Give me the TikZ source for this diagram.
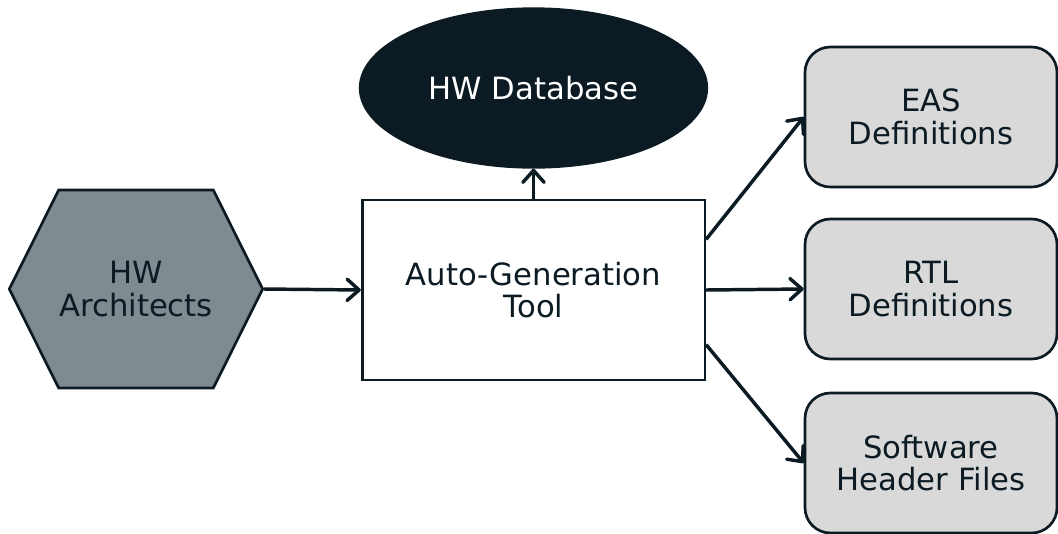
\documentclass[tikz,border=0pt]{standalone}
\usepackage{fontspec}
\setmainfont{DejaVu Sans}
\usetikzlibrary{shapes.geometric,shapes.symbols,arrows.meta}
\definecolor{ink}{HTML}{0B1A23}
\definecolor{slate}{HTML}{7F8A91}
\definecolor{pale}{HTML}{D9D9D9}
\tikzset{every node/.style={align=center, font=\fontsize{23}{24.5}\selectfont, text=ink, draw=ink, line width=2pt, inner sep=0pt},
  hexa/.style={shape=signal, signal to=east and west, signal pointer angle=127, fill=slate, minimum width=190pt, minimum height=148.5pt},
  toolbox/.style={rectangle, fill=white, minimum width=257pt, minimum height=135pt},
  dbnode/.style={ellipse, fill=ink, text=white, minimum width=260pt, minimum height=119pt},
  outbox/.style={rectangle, rounded corners=19pt, fill=pale, minimum width=189pt, minimum height=105pt},
  arr/.style={draw=ink, line width=2.6pt, -{Straight Barb[length=9pt,width=16pt,line cap=round,line join=round]}}}

\begin{document}
\begin{tikzpicture}[x=0.75pt,y=-0.75pt]
  \useasboundingbox (0,0) rectangle (1058,533);
  \node[hexa] (arch) at (136,289) {HW\\Architects};
  \node[toolbox] (tool) at (533.5,290) {Auto-Generation\\Tool};
  \node[dbnode] (db) at (533.5,88) {HW Database};
  \node[outbox] (eas) at (931,117) {EAS\\Definitions};
  \node[outbox] (rtl) at (931,289) {RTL\\Definitions};
  \node[outbox] (sw) at (931,463) {Software\\Header Files};
  \draw[arr] (arch.east) -- (tool.west);
  \draw[arr] (tool.north) -- (db.south);
  \draw[arr] ([yshift=38pt]tool.east) -- (eas.west);
  \draw[arr] (tool.east) -- (rtl.west);
  \draw[arr] ([yshift=-41pt]tool.east) -- (sw.west);
\end{tikzpicture}
\end{document}
